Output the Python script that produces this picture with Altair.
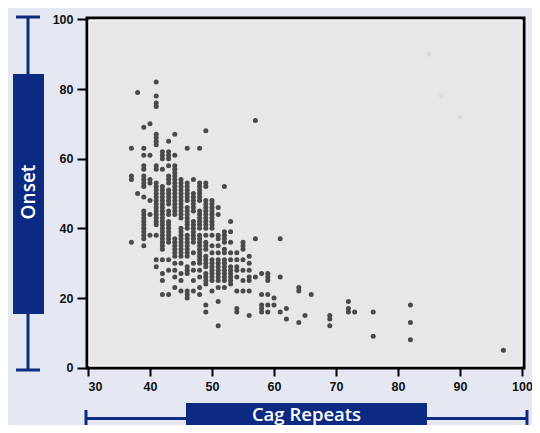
import altair as alt
import pandas as pd

# CAG repeat length -> list of ages at onset
onset_by_cag = {
    37: [63, 55, 54, 36],
    38: [79, 50],
    39: [69, 63, 61, 58, 57, 55, 54, 53, 52, 49, 45, 44, 43, 42, 41, 40, 39, 38, 37, 35],
    40: [70, 61, 54, 53, 48, 44, 38],
    41: [82, 78, 76, 75, 67, 66, 65, 64, 58, 57, 53, 52, 51, 50, 49, 48, 47, 46, 45, 44,
         43, 42, 41, 38, 31, 29],
    42: [62, 61, 60, 57, 52, 51, 50, 49, 48, 47, 46, 45, 44, 43, 42, 41, 40, 39, 38, 37,
         36, 35, 34, 31, 27, 25, 21],
    43: [65, 62, 61, 60, 58, 55, 54, 53, 51, 50, 49, 48, 47, 45, 44, 42, 41, 40, 39, 38,
         37, 36, 31, 28, 21],
    44: [67, 61, 58, 57, 56, 55, 54, 53, 52, 51, 50, 49, 48, 47, 46, 45, 44, 37, 36, 35,
         34, 33, 32, 30, 28, 26, 23],
    45: [54, 53, 52, 51, 50, 49, 48, 47, 46, 45, 44, 43, 40, 39, 38, 37, 36, 35, 34, 33,
         32, 30, 27, 25, 22],
    46: [63, 53, 52, 51, 50, 49, 48, 46, 45, 44, 43, 42, 41, 40, 38, 37, 36, 35, 34, 33,
         32, 29, 28, 27, 22, 21, 20],
    47: [54, 50, 49, 48, 47, 46, 45, 42, 41, 40, 39, 38, 37, 36, 33, 30, 28, 25, 22],
    48: [63, 53, 52, 51, 50, 49, 48, 45, 44, 43, 42, 41, 40, 38, 37, 36, 35, 34, 33, 32,
         31, 30, 28, 26, 23, 21],
    49: [68, 53, 52, 48, 47, 46, 45, 44, 43, 42, 41, 40, 38, 36, 35, 34, 32, 31, 30, 29,
         27, 26, 25, 24, 18, 16],
    50: [48, 47, 46, 45, 44, 43, 42, 41, 40, 38, 35, 33, 31, 30, 29, 28, 27, 26, 25, 22],
    51: [46, 44, 38, 37, 35, 33, 31, 30, 29, 28, 27, 26, 25, 23, 19, 12],
    52: [52, 39, 38, 37, 36, 34, 33, 31, 30, 29, 28, 27, 26, 25, 23],
    53: [42, 39, 36, 33, 31, 29, 28, 27, 26, 25, 24],
    54: [33, 31, 29, 28, 26, 22, 17, 16],
    55: [36, 35, 34, 31, 28, 25, 22],
    56: [32, 30, 28, 26, 25, 22, 15],
    57: [71, 37, 26],
    58: [27, 21, 18, 17, 16],
    59: [27, 26, 25, 21, 18, 16],
    60: [20, 18],
    61: [37, 26, 16],
    62: [17, 14],
    64: [23, 22, 13],
    65: [15],
    66: [21],
    69: [15, 14, 12],
    72: [19, 17, 16],
    73: [16],
    76: [16, 9],
    82: [18, 13, 8],
    97: [5],
}

# very faint ghost dots in the upper right
faint_cag = [85, 87, 90]
faint_onset = [90, 78, 72]

x_ticks = [30, 40, 50, 60, 70, 80, 90, 100]
y_ticks = [0, 20, 40, 60, 80, 100]

rows = [(c, o) for c, ys in onset_by_cag.items() for o in ys]
df = pd.DataFrame(rows, columns=["cag", "onset"])
faint_df = pd.DataFrame({"cag": faint_cag, "onset": faint_onset})
one = pd.DataFrame({"k": [0]})

W, H = 437, 350
BLUE = "#0c2a82"

xscale = alt.Scale(domain=[29.84, 100.32], nice=False, zero=False)
yscale = alt.Scale(domain=[-0.1, 100.4], nice=False, zero=False)

x_enc = alt.X("cag:Q", scale=xscale,
              axis=alt.Axis(values=x_ticks, title=None, tickSize=8, labelPadding=4))
y_enc = alt.Y("onset:Q", scale=yscale,
              axis=alt.Axis(values=y_ticks, title=None, tickSize=10, labelPadding=4))

faint = alt.Chart(faint_df).mark_circle(size=24, color="#d9d9d9", opacity=1).encode(
    x=x_enc, y=y_enc)
points = alt.Chart(df).mark_circle(size=25, color="#4a4a4a", opacity=1).encode(
    x=x_enc, y=y_enc)

# thin white inner edge of the plot frame
inner = alt.Chart(one).mark_rect(fill=None, stroke="white", strokeWidth=1).encode(
    x=alt.value(2), x2=alt.value(W - 2), y=alt.value(2), y2=alt.value(H - 2))

def rule(x, y, x2=None, y2=None):
    enc = {"x": alt.value(x), "y": alt.value(y)}
    if x2 is not None:
        enc["x2"] = alt.value(x2)
    if y2 is not None:
        enc["y2"] = alt.value(y2)
    return alt.Chart(one).mark_rule(color=BLUE, strokeWidth=3).encode(**enc)

# y title decoration
y_line = rule(-59, -1, y2=352)
y_cap1 = rule(-71, -1, x2=-47)
y_cap2 = rule(-71, 352, x2=-47)
y_box = alt.Chart(one).mark_rect(color=BLUE).encode(
    x=alt.value(-74), x2=alt.value(-43), y=alt.value(56), y2=alt.value(296))
y_text = alt.Chart(one).mark_text(
    text="Onset", angle=270, color="white", font="Open Sans", fontWeight=600,
    fontSize=19, align="center", baseline="middle").encode(
    x=alt.value(-58.5), y=alt.value(174))

# x title decoration
x_line = rule(-1, 400.5, x2=440)
x_cap1 = rule(-1, 392, y2=409)
x_cap2 = rule(440, 392, y2=409)
x_box = alt.Chart(one).mark_rect(color=BLUE).encode(
    x=alt.value(99), x2=alt.value(340), y=alt.value(385), y2=alt.value(420))
x_text = alt.Chart(one).mark_text(
    text="Cag Repeats", color="white", font="Open Sans", fontWeight=600,
    fontSize=18.5, align="center", baseline="alphabetic").encode(
    x=alt.value(219.5), y=alt.value(402.5))

chart = alt.layer(
    faint, points, inner,
    y_line, y_cap1, y_cap2, y_box, y_text,
    x_line, x_cap1, x_cap2, x_box, x_text,
).properties(
    width=W, height=H,
    padding={"left": 79, "top": 10, "right": 8, "bottom": 57},
    autosize=alt.AutoSizeParams(type="none"),
).configure(
    background="#e5e8f3",
).configure_view(
    fill="#e7e7e7", stroke="black", strokeWidth=3,
).configure_axis(
    domain=False, grid=False, tickColor="black", tickWidth=2,
    labelFont="Liberation Sans", labelFontSize=12.5, labelFontWeight="bold",
    labelColor="#111111",
)

chart.save("out.html", embed_options={"renderer": "svg", "actions": False})
